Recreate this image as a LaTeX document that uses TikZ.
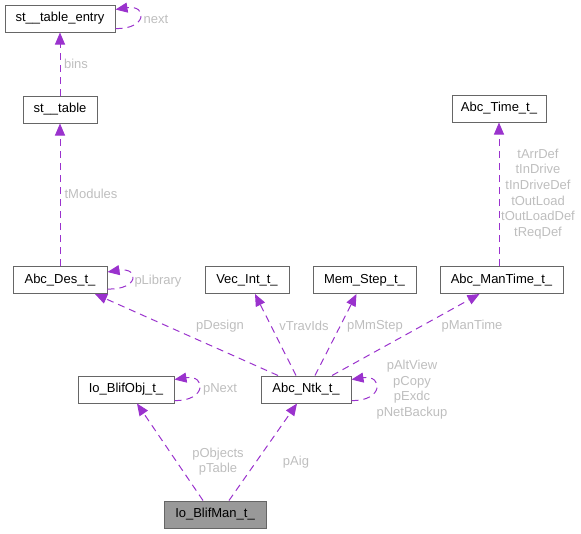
\documentclass[tikz,border=0pt]{standalone}
\usepackage{fontspec}
\setmainfont{Liberation Sans}
\usetikzlibrary{arrows.meta}
\definecolor{edgec}{HTML}{9A32CD}
\definecolor{boxc}{HTML}{666666}
\definecolor{lblc}{HTML}{BEBEBE}
\definecolor{mainfill}{HTML}{999999}
\begin{document}
\begin{tikzpicture}[x=1pt,y=-1pt,
 box/.style={draw=boxc, line width=1pt, fill=white, minimum height=27pt, inner sep=0pt, font=\fontsize{13}{15.6}\selectfont, text=black},
 edge/.style={draw=edgec, line width=1pt, dash pattern=on 7pt off 5pt, -{Triangle[length=12pt,width=10pt]}},
 lbl/.style={text=lblc, font=\fontsize{13}{15.6}\selectfont, inner sep=0pt, align=center}]
\useasboundingbox (0,0) rectangle (581,533);

\node[box, minimum width=110pt] (ste) at (60,18.5) {st\_\_table\_entry};
\node[box, minimum width=74pt] (st) at (60,109.5) {st\_\_table};
\node[box, minimum width=94pt] (time) at (499,108.5) {Abc\_Time\_t\_};
\node[box, minimum width=94pt] (des) at (60,280) {Abc\_Des\_t\_};
\node[box, minimum width=84pt] (vec) at (247,280) {Vec\_Int\_t\_};
\node[box, minimum width=103pt] (mem) at (364.5,280) {Mem\_Step\_t\_};
\node[box, minimum width=123pt] (mt) at (501.5,280) {Abc\_ManTime\_t\_};
\node[box, minimum width=96pt] (obj) at (126,389.5) {Io\_BlifObj\_t\_};
\node[box, minimum width=90pt] (ntk) at (306,389.5) {Abc\_Ntk\_t\_};
\node[box, minimum width=102pt, fill=mainfill] (man) at (215,514.5) {Io\_BlifMan\_t\_};

% edges
\draw[edge] (st.north) -- (ste.south);
\draw[edge] ([yshift=4pt]ste.south east) .. controls +(32,1) and +(32,-5) .. ([yshift=-5pt]ste.north east);
\draw[edge] (des.north) -- (st.south);
\draw[edge] ([yshift=5pt]des.south east) .. controls +(32,1) and +(32,-5) .. ([yshift=-6pt]des.north east);
\draw[edge] (mt.north -| time.south) -- (time.south);
\draw[edge] ([xshift=-28pt]ntk.north) -- ([xshift=35pt]des.south);
\draw[edge] ([xshift=-10pt]ntk.north) -- ([xshift=8pt]vec.south);
\draw[edge] ([xshift=9pt]ntk.north) -- ([xshift=-8pt]mem.south);
\draw[edge] ([xshift=26pt]ntk.north) -- ([xshift=-22pt]mt.south);
\draw[edge] ([yshift=3pt]ntk.south east) .. controls +(32,1) and +(32,-5) .. ([yshift=-4pt]ntk.north east);
\draw[edge] ([yshift=3pt]obj.south east) .. controls +(32,1) and +(32,-5) .. ([yshift=-4pt]obj.north east);
\draw[edge] ([xshift=-12pt]man.north) -- ([xshift=11pt]obj.south);
\draw[edge] ([xshift=14pt]man.north) -- ([xshift=-9pt]ntk.south);

% labels
\node[lbl] (lbins) at (76,64) {bins};
\node[lbl] (lnext) at (156,19) {next};
\node[lbl] (ltmod) at (91,194) {tModules};
\node[lbl] (llib) at (158,281) {pLibrary};
\node[lbl] (ltime) at (538,194) {tArrDef\\tInDrive\\tInDriveDef\\tOutLoad\\tOutLoadDef\\tReqDef};
\node[lbl] (ldes) at (220,326) {pDesign};
\node[lbl] (lvec) at (304,326) {vTravIds};
\node[lbl] (lmem) at (375,326) {pMmStep};
\node[lbl] (lmt) at (472,326) {pManTime};
\node[lbl] (lntk) at (412,389.5) {pAltView\\pCopy\\pExdc\\pNetBackup};
\node[lbl] (lnextb) at (220,389) {pNext};
\node[lbl] (lobj) at (218,461.5) {pObjects\\pTable};
\node[lbl] (laig) at (296,462) {pAig};
\end{tikzpicture}
\end{document}
